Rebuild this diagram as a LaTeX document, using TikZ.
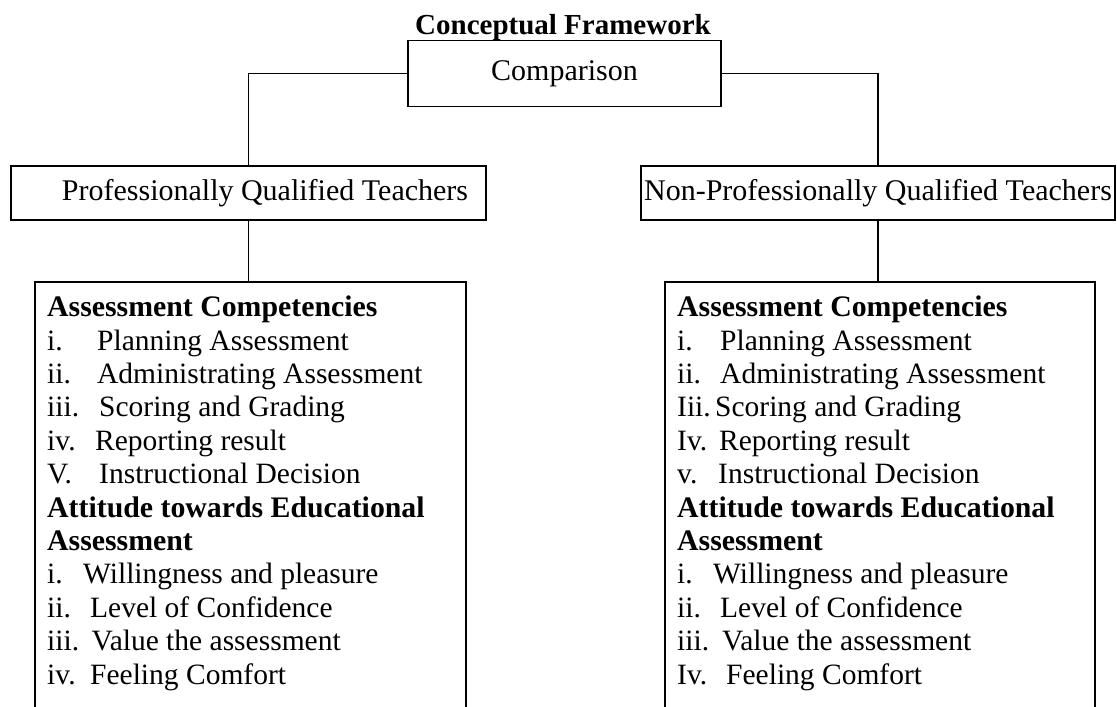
\documentclass[tikz,border=0pt]{standalone}
\usepackage{fontspec}
\setmainfont{Liberation Serif}
\begin{document}
\begin{tikzpicture}[x=1pt,y=-1pt,
  frame/.style={draw,line width=1.6pt,inner sep=0pt},
  link/.style={line width=1.3pt},
  lbl/.style={font=\fontsize{30}{34}\selectfont},
  body/.style={font=\fontsize{29.5}{33}\selectfont,anchor=base west,inner sep=0pt},
  head/.style={body,font=\fontsize{29.8}{33}\selectfont\bfseries}]
\useasboundingbox (0,0) rectangle (1117,707);
\clip (0,0) rectangle (1117,707);

% title
\node[font=\fontsize{29}{33}\selectfont\bfseries,anchor=base,inner sep=0pt] (title) at (563,34) {Conceptual Framework};

% top level boxes
\node[frame,lbl,minimum width=313pt,minimum height=66pt] (cmp) at (564.5,73.5) {Comparison};
\node[frame,lbl,minimum width=475pt,minimum height=54pt] (pqt) at (248.5,193) {\hspace*{33pt}Professionally Qualified Teachers};
\node[frame,lbl,minimum width=474pt,minimum height=54pt] (npq) at (878,193) {Non-Professionally Qualified Teachers};

% content boxes (open at the bottom edge)
\node[frame,minimum width=431pt,minimum height=460pt,anchor=north] (lbox) at (250.5,281) {};
\node[frame,minimum width=430pt,minimum height=460pt,anchor=north] (rbox) at (880,281) {};

% connectors
\draw[link] (cmp.west) -| (pqt.north);
\draw[link] (cmp.east) -| (npq.north);
\draw[link] (pqt.south) -- (pqt.south |- lbox.north);
\draw[link] (npq.south) -- (npq.south |- rbox.north);

% left list
\node[head] (lh1) at (47,316.7) {Assessment Competencies};
\foreach \lab/\xt/\txt [count=\k] in {i./97/Planning Assessment,ii./97/Administrating Assessment,iii./99/Scoring and Grading,iv./95/Reporting result,V./99/Instructional Decision}
{
  \node[body] (ll\k) at (47,{316.7+33.4*\k}) {\lab};
  \node[body] (lt\k) at (\xt,{316.7+33.4*\k}) {\txt};
}
\node[head] (lh2) at (47,517.1) {Attitude towards Educational};
\node[head] (lh3) at (47,550.5) {Assessment};
\foreach \lab/\xt/\txt [count=\k] in {i./83/Willingness and pleasure,ii./90/Level of Confidence,iii./91.5/Value the assessment,iv./90/Feeling Comfort}
{
  \node[body] (lm\k) at (47,{550.5+33.4*\k}) {\lab};
  \node[body] (lu\k) at (\xt,{550.5+33.4*\k}) {\txt};
}

% right list
\node[head] (rh1) at (677,316.7) {Assessment Competencies};
\foreach \lab/\xt/\txt [count=\k] in {i./720/Planning Assessment,ii./720/Administrating Assessment,Iii./715/Scoring and Grading,Iv./719/Reporting result,v./718/Instructional Decision}
{
  \node[body] (rl\k) at (677,{316.7+33.4*\k}) {\lab};
  \node[body] (rt\k) at (\xt,{316.7+33.4*\k}) {\txt};
}
\node[head] (rh2) at (677,517.1) {Attitude towards Educational};
\node[head] (rh3) at (677,550.5) {Assessment};
\foreach \lab/\xt/\txt [count=\k] in {i./713/Willingness and pleasure,ii./720/Level of Confidence,iii./722/Value the assessment,Iv./726/Feeling Comfort}
{
  \node[body] (rm\k) at (677,{550.5+33.4*\k}) {\lab};
  \node[body] (ru\k) at (\xt,{550.5+33.4*\k}) {\txt};
}
\end{tikzpicture}
\end{document}
